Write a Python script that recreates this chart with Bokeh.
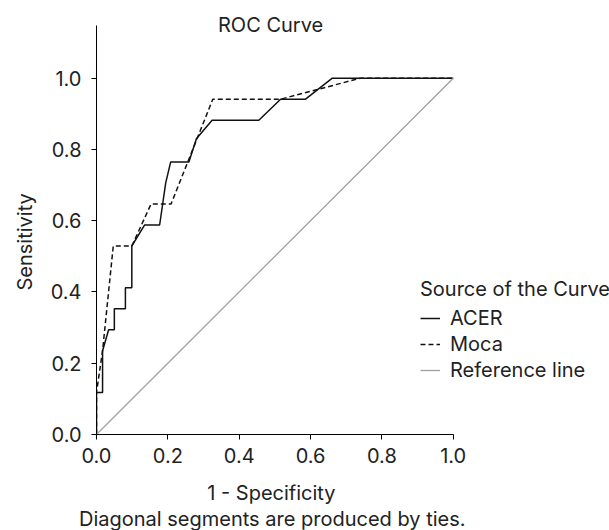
from bokeh.plotting import figure
from bokeh.models import Range1d, Legend, LegendItem, Label, Title, FixedTicker, NumeralTickFormatter
from bokeh.embed import file_html
from bokeh.resources import INLINE

# ---- data ----
acer_fpr = [0, 0, 0.017, 0.017, 0.034, 0.05, 0.05, 0.081, 0.081, 0.099, 0.099, 0.135,
            0.177, 0.194, 0.208, 0.259, 0.28, 0.324, 0.455, 0.516, 0.586, 0.661, 1.0]
acer_tpr = [0, 0.118, 0.118, 0.235, 0.294, 0.294, 0.353, 0.353, 0.412, 0.412, 0.529, 0.588,
            0.588, 0.706, 0.765, 0.765, 0.83, 0.882, 0.882, 0.941, 0.941, 1.0, 1.0]

moca_fpr = [0, 0, 0.017, 0.047, 0.099, 0.153, 0.209, 0.326, 0.516, 0.74, 1.0]
moca_tpr = [0, 0.118, 0.235, 0.529, 0.529, 0.647, 0.647, 0.941, 0.941, 1.0, 1.0]

ref_x = [0, 1]
ref_y = [0, 1]

ticks = [0.0, 0.2, 0.4, 0.6, 0.8, 1.0]

FONT = "Inter"
FS = "20px"
TXT = "#222222"

# the frame reaches the right and top edges of the canvas so that the legend and
# the chart title (annotations, clipped to the frame) are fully shown
X_MAX = 1.438
Y_MAX = 1.218
AXIS_TOP = 1.148

p = figure(width=609, height=530, output_backend="svg", toolbar_location=None,
           x_range=Range1d(0, X_MAX), y_range=Range1d(0, Y_MAX),
           min_border_left=96, min_border_right=0, min_border_top=0, min_border_bottom=96)
p.outline_line_color = None
p.grid.visible = False
p.background_fill_color = "white"
p.border_fill_color = "white"

for ax in (p.xaxis[0], p.yaxis[0]):
    ax.ticker = FixedTicker(ticks=ticks)
    ax.formatter = NumeralTickFormatter(format="0.0")
    ax.minor_tick_line_color = None
    ax.major_tick_in = 0
    ax.major_tick_out = 5
    ax.axis_line_color = "black"
    ax.major_tick_line_color = "black"
    ax.major_label_text_font = FONT
    ax.major_label_text_font_size = FS
    ax.major_label_text_color = TXT

p.xaxis.bounds = (0, 1)
p.yaxis.bounds = (0, AXIS_TOP)
p.xaxis.major_label_standoff = 8
p.yaxis.major_label_standoff = 10


def side_title(text, side, align, offset, standoff, size=FS):
    p.add_layout(Title(text=text, align=align, offset=offset, standoff=standoff,
                       text_font=FONT, text_font_size=size, text_font_style="normal",
                       text_color=TXT), side)


# axis titles placed along the 0..1 span of each axis
side_title("Sensitivity", "left", "left", 144, 21)
side_title(" ", "below", "left", 0, 10, size="1px")          # small gap under the tick labels
side_title("1 - Specificity", "below", "right", 274, 0)
side_title("Diagonal segments are produced by ties.", "below", "right", 144, 0)

r_acer = p.line(acer_fpr, acer_tpr, line_color="#111111", line_width=1.5)
r_moca = p.line(moca_fpr, moca_tpr, line_color="#111111", line_width=1.5, line_dash="5 3")
r_ref = p.line(ref_x, ref_y, line_color="#a0a0a0", line_width=1.3)

legend = Legend(items=[LegendItem(label="ACER", renderers=[r_acer]),
                       LegendItem(label="Moca", renderers=[r_moca]),
                       LegendItem(label="Reference line", renderers=[r_ref])],
                location=(324, 52), title="Source of the Curve",
                title_text_font=FONT, title_text_font_size=FS, title_text_font_style="normal",
                title_text_color=TXT, title_standoff=5,
                label_text_font=FONT, label_text_font_size=FS, label_text_color=TXT,
                glyph_width=20, label_standoff=10, spacing=2, padding=0, margin=0,
                border_line_color=None, background_fill_alpha=0)
p.add_layout(legend)

p.add_layout(Label(x=0.488, y=AXIS_TOP, text="ROC Curve", text_align="center", text_baseline="middle",
                   text_font=FONT, text_font_size=FS, text_color=TXT))

open("out.html", "w").write(file_html(p, INLINE))
